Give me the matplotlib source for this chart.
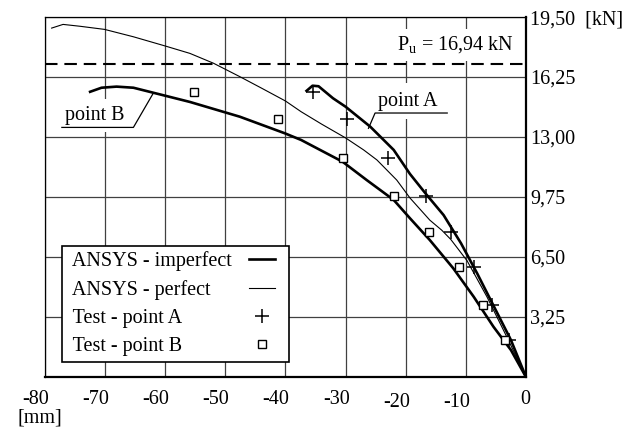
import matplotlib
matplotlib.use('Agg')
import matplotlib.pyplot as plt
from matplotlib.transforms import ScaledTranslation
from matplotlib.legend_handler import HandlerLine2D

plt.rcParams['font.family'] = ['Liberation Serif', 'DejaVu Serif']
plt.rcParams['font.size'] = 14.5

# ANSYS - perfect (thin line)
perf_x = [-78.9, -77.0, -74.2, -70.1, -65.3, -60.0, -55.9, -52.0, -47.6, -44.0,
          -40.0, -37.4, -34.0, -30.0, -27.0, -24.8, -21.5, -19.3, -16.0, -14.0,
          -12.5, -9.8, -6.5, -3.2, 0.0]
perf_y = [18.9, 19.1, 19.0, 18.83, 18.43, 17.93, 17.53, 17.0, 16.27, 15.65,
          14.95, 14.37, 13.7, 12.95, 12.3, 11.76, 10.67, 9.7, 8.5, 7.95,
          7.45, 6.3, 4.35, 2.18, 0.0]

# ANSYS - imperfect, point A (thick)
impA_x = [-36.5, -35.5, -34.5, -32.1, -30.0, -25.9, -22.0, -19.3, -16.6, -13.7,
          -10.8, -8.1, -5.3, -2.5, 0.0]
impA_y = [15.5, 15.78, 15.75, 15.1, 14.64, 13.56, 12.3, 11.0, 9.9, 8.77,
          7.24, 5.6, 3.8, 2.0, 0.0]

# ANSYS - imperfect, point B (thick)
impB_x = [-72.5, -70.6, -68.1, -65.3, -62.0, -55.9, -47.6, -40.1, -37.4, -30.5,
          -26.5, -22.0, -19.3, -16.0, -12.1, -8.7, -5.4, -2.5, 0.0]
impB_y = [15.45, 15.67, 15.73, 15.67, 15.4, 14.9, 14.1, 13.2, 12.84, 11.66,
          10.67, 9.59, 8.6, 7.42, 5.89, 4.35, 2.72, 1.46, 0.0]

# test results
test_load = [15.45, 14.0, 11.84, 9.83, 7.87, 5.94, 3.92, 2.0]
testA_x = [-35.4, -29.8, -23.0, -16.7, -12.5, -8.7, -5.6, -2.8]
testB_x = [-55.3, -41.2, -30.5, -21.9, -16.2, -11.2, -7.2, -3.5]

P_u = 16.94

x_ticks = [-80, -70, -60, -50, -40, -30, -20, -10, 0]
x_labels = ['-80', '-70', '-60', '-50', '-40', '-30', '-20', '-10', '0']
y_ticks = [3.25, 6.5, 9.75, 13.0, 16.25, 19.5]
y_labels = ['3,25', '6,50', '9,75', '13,00', '16,25', '19,50  [kN]']

fig = plt.figure(figsize=(6.35, 4.32), dpi=100)
ax = fig.add_axes([0.0709, 0.1273, 0.7574, 0.8333])

l_imp, = ax.plot(impA_x, impA_y, color='k', lw=1.9, label=' ANSYS - imperfect')
ax.plot(impB_x, impB_y, color='k', lw=1.9)
l_perf, = ax.plot(perf_x, perf_y, color='k', lw=0.8, label=' ANSYS - perfect')
l_a, = ax.plot(testA_x, test_load, ls='none', marker='+', ms=10, mew=1.1,
               color='k', label=' Test - point A')
l_b, = ax.plot(testB_x, test_load, ls='none', marker='s', ms=6, mfc='white',
               mec='k', mew=1.0, label=' Test - point B')

ax.axhline(P_u, color='k', lw=1.5, dashes=(6, 3.3))

ax.set_xlim(-80, 0)
ax.set_ylim(0, 19.5)
ax.set_xticks(x_ticks)
ax.set_xticklabels(x_labels)
ax.yaxis.tick_right()
ax.set_yticks(y_ticks)
ax.set_yticklabels(y_labels)
ax.tick_params(axis='x', length=0, pad=9)
ax.tick_params(axis='y', length=0, pad=3)
ax.set_axisbelow(True)
ax.grid(True, color='0.25', lw=0.9)

for s in ['left', 'top']:
    ax.spines[s].set_linewidth(0.9)
for s in ['bottom', 'right']:
    ax.spines[s].set_linewidth(1.6)

for lab in ax.get_xticklabels():
    lab.set_ha('right')
    dy = -3 if lab.get_text() in ('-20', '-10') else 0
    lab.set_transform(lab.get_transform() +
                      ScaledTranslation(4 / 100, dy / 100, fig.dpi_scale_trans))

fig.text(0.028, 1 - 418 / 432, '[mm]', va='center', ha='left')

ax.text(-2.1, 18.0, r'P$_\mathregular{u}$ = 16,94 kN', ha='right', va='center',
        zorder=1.5, bbox=dict(facecolor='white', edgecolor='none', pad=4))

ax.text(-24.6, 14.95, 'point A', ha='left', va='center', zorder=1.5,
        bbox=dict(facecolor='white', edgecolor='none', pad=6))
ax.plot([-26.2, -25.1, -13.1], [13.47, 14.3, 14.3], color='k', lw=0.9)

ax.text(-76.7, 14.15, 'point B', ha='left', va='center', zorder=1.5,
        bbox=dict(facecolor='white', edgecolor='none', pad=5))
ax.plot([-77.2, -65.3, -62.0], [13.52, 13.52, 15.37], color='k', lw=0.9)

short = HandlerLine2D(numpoints=2, marker_pad=0.43)
leg = ax.legend(handles=[l_imp, l_perf, l_a, l_b], loc='lower left',
                bbox_to_anchor=(0.0353, 0.0417), borderaxespad=0,
                markerfirst=False, fancybox=False, framealpha=1,
                edgecolor='k', handlelength=2.15, handletextpad=0.45,
                labelspacing=0.45, borderpad=0.28,
                handler_map={l_imp: short, l_perf: short})
leg.get_frame().set_linewidth(1.2)

# left-align legend texts while keeping the handles in one column
fig.canvas.draw()
r = fig.canvas.get_renderer()
col = leg._legend_handle_box.get_children()[0]
col.align = 'left'
widths = [t.get_window_extent(r).width for t in leg.get_texts()]
for hp, w in zip(col.get_children(), widths):
    hp.sep += (max(widths) - w) * 72 / fig.dpi

fig.savefig('out.png', dpi=100)
